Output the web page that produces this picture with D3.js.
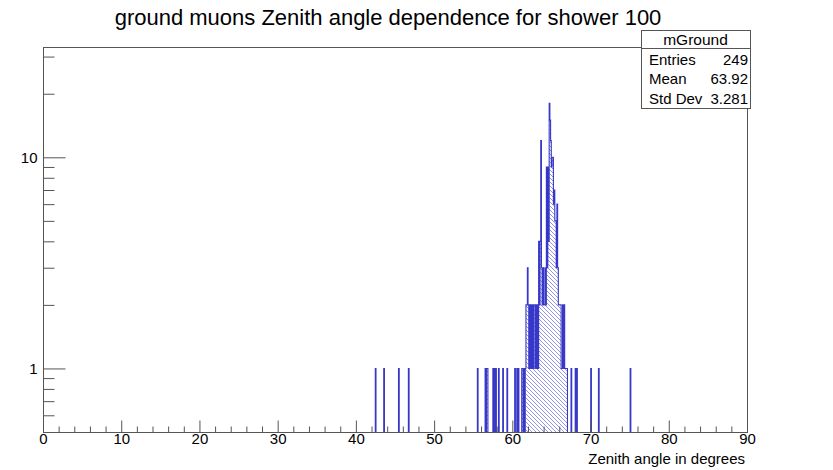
<!DOCTYPE html>
<html><head><meta charset="utf-8">
<script src="https://cdn.jsdelivr.net/npm/d3@7/dist/d3.min.js"></script>
<style>body{margin:0;background:#fff}text{font-family:"Liberation Sans",Arial,Helvetica,sans-serif}</style>
</head><body>
<svg id="c" width="833" height="470"></svg>
<script>
// ---- data ----
const titleText = "ground muons Zenith angle dependence for shower 100";
const xTitleText = "Zenith angle in degrees";
const histName = "mGround";
const statLabels = ["Entries", "Mean", "Std Dev"];
const statValues = ["249", "63.92", "3.281"];
const binWidth = 0.09;
const binCenters = [
  42.525, 43.605, 45.495, 46.755,
  55.575, 56.565, 56.745, 56.835, 57.555, 57.735, 57.915, 58.275, 58.815, 59.355,
  60.345, 60.615, 60.795, 61.245, 61.335, 61.515, 61.695,
  61.785, 61.875, 61.965, 62.055, 62.145, 62.235, 62.325, 62.415, 62.505, 62.595, 62.685, 62.775, 62.865, 62.955, 63.045, 63.135, 63.225, 63.315,
  63.405, 63.495, 63.585, 63.675, 63.765, 63.855, 63.945, 64.035, 64.125, 64.215, 64.305,
  64.395, 64.485, 64.575, 64.665, 64.755, 64.845, 64.935, 65.025, 65.115, 65.205,
  65.295, 65.385, 65.475, 65.565, 65.655, 65.745, 65.835, 65.925, 66.015, 66.105, 66.195,
  66.285, 66.375, 66.465, 66.555, 66.645, 66.735, 66.825, 66.915, 67.005,
  67.545, 68.085, 68.265, 70.065, 71.055, 75.105
];
const binCounts = [
  1, 1, 1, 1,
  1, 1, 1, 1, 1, 1, 1, 1, 1, 1,
  1, 1, 1, 1, 1, 1, 1,
  2, 2, 3, 2, 1, 2, 1, 2, 1, 2, 1, 2, 2, 1, 2, 1, 2, 1,
  4, 2, 4, 12, 3, 2, 3, 2, 2, 3, 2,
  9, 3, 9, 4, 18, 15, 12, 9, 10, 10,
  6, 7, 5, 5, 3, 6, 3, 2, 2, 2, 2,
  1, 1, 2, 1, 2, 1, 1, 1, 1,
  1, 1, 1, 1, 1, 1
];
const xMajorTicks = [0, 10, 20, 30, 40, 50, 60, 70, 80, 90];
const xMinorTicks = d3.range(0, 91, 2).filter(v => v % 10 !== 0);
const yMajorTicks = [1, 10];
const yMinorTicks = [0.6, 0.7, 0.8, 0.9, 2, 3, 4, 5, 6, 7, 8, 9, 20, 30];
const xDomain = [0, 90];
const yDomain = [0.5, 33.3];

// ---- layout ----
const L = 43, R = 747, T = 47, B = 432;
const svg = d3.select("#c");
const x = d3.scaleLinear().domain(xDomain).range([L, R]);
const y = d3.scaleLog().domain(yDomain).range([B, T]);

const defs = svg.append("defs");
const pat = defs.append("pattern").attr("id", "hatch").attr("patternUnits", "userSpaceOnUse")
  .attr("width", 4).attr("height", 4);
pat.append("path").attr("d", "M-1,-1 L5,5 M-1,3 L1,5 M3,-1 L5,1")
  .attr("stroke", "#5a5ad8").attr("stroke-width", 0.8).attr("fill", "none");
defs.append("clipPath").attr("id", "clip").append("rect")
  .attr("x", L).attr("y", T).attr("width", R - L).attr("height", B - T);

// histogram
const bins = binCenters.map((c, i) => ({ c, n: binCounts[i] }));
const g = svg.append("g").attr("clip-path", "url(#clip)");
g.selectAll("rect.bin").data(bins).enter().append("rect").attr("class", "bin")
  .attr("x", d => x(d.c - binWidth / 2))
  .attr("width", d => x(d.c + binWidth / 2) - x(d.c - binWidth / 2))
  .attr("y", d => y(d.n))
  .attr("height", d => B - y(d.n))
  .attr("fill", "url(#hatch)");

// outline as step paths over contiguous runs
let path = "";
let prev = null;
bins.forEach((d) => {
  const x0 = x(d.c - binWidth / 2), x1 = x(d.c + binWidth / 2), yt = y(d.n);
  const contiguous = prev && Math.abs(d.c - prev.c - binWidth) < 1e-6;
  if (!contiguous) {
    if (prev) path += `V${B}`;
    path += `M${x0},${B}V${yt}H${x1}`;
  } else {
    path += `V${yt}H${x1}`;
  }
  prev = d;
});
if (prev) path += `V${B}`;
g.append("path").attr("d", path).attr("fill", "none")
  .attr("stroke", "#3838c8").attr("stroke-width", 1.1);

// frame
svg.append("rect").attr("x", L + 0.5).attr("y", T + 0.5).attr("width", R - L).attr("height", B - T)
  .attr("fill", "none").attr("stroke", "#555").attr("stroke-width", 1);

// axes
const axisCol = "#555";
function styleAxis(sel) {
  sel.select(".domain").remove();
  sel.selectAll(".tick line").attr("stroke", axisCol);
  sel.selectAll("text").attr("fill", "#000").style("font-size", "15px")
    .style("font-family", '"Liberation Sans",Arial,sans-serif');
}
svg.append("g").attr("transform", `translate(0,${B + 0.5})`)
  .call(d3.axisBottom(x).tickValues(xMinorTicks).tickSize(-6).tickFormat(""))
  .call(styleAxis);
svg.append("g").attr("transform", `translate(0,${B + 0.5})`)
  .call(d3.axisBottom(x).tickValues(xMajorTicks).tickSize(-12).tickPadding(1).tickFormat(d3.format("d")))
  .call(styleAxis);
svg.append("g").attr("transform", `translate(${L + 0.5},0)`)
  .call(d3.axisLeft(y).tickValues(yMinorTicks).tickSize(-11).tickFormat(""))
  .call(styleAxis);
svg.append("g").attr("transform", `translate(${L + 0.5},0)`)
  .call(d3.axisLeft(y).tickValues(yMajorTicks).tickSize(-22).tickPadding(6).tickFormat(d3.format("d")))
  .call(styleAxis);

// axis title
svg.append("text").attr("x", 745).attr("y", 464).attr("text-anchor", "end")
  .style("font-size", "15px").text(xTitleText);

// title
svg.append("text").attr("x", 388).attr("y", 25).attr("text-anchor", "middle")
  .style("font-size", "22px").text(titleText);

// stats box
const sx0 = 641, sx1 = 750, sy0 = 30, sh = 19.5;
svg.append("rect").attr("x", sx0 + 0.5).attr("y", sy0 + 0.5).attr("width", sx1 - sx0).attr("height", sh * 4)
  .attr("fill", "#fff").attr("stroke", "#555");
svg.append("line").attr("x1", sx0).attr("x2", sx1 + 0.5).attr("y1", sy0 + 18.5).attr("y2", sy0 + 18.5)
  .attr("stroke", "#555");
svg.append("text").attr("x", (sx0 + sx1) / 2).attr("y", sy0 + 15).attr("text-anchor", "middle")
  .style("font-size", "15.5px").text(histName);
statLabels.forEach((lab, i) => {
  const yy = sy0 + sh * (i + 1) + 15;
  svg.append("text").attr("x", sx0 + 8).attr("y", yy).style("font-size", "15px").text(lab);
  svg.append("text").attr("x", sx1 - 2).attr("y", yy).attr("text-anchor", "end")
    .style("font-size", "15px").text(statValues[i]);
});
</script>
</body></html>
